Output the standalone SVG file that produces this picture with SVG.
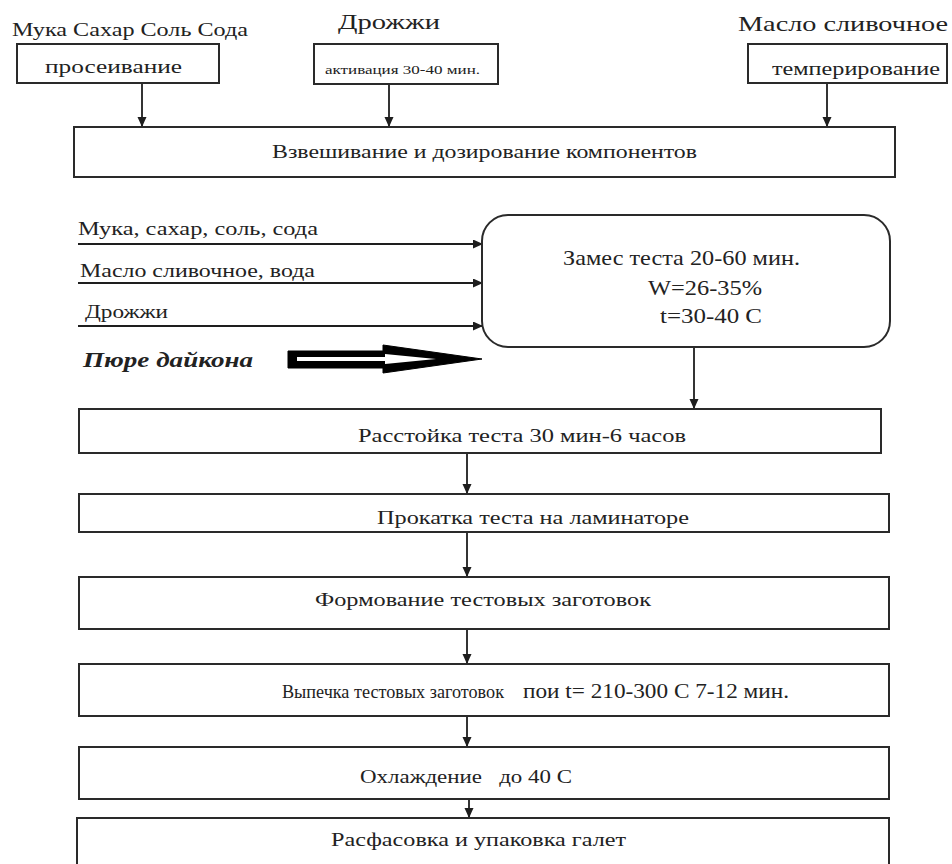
<svg xmlns="http://www.w3.org/2000/svg" width="952" height="864" viewBox="0 0 952 864">
<style>
.box{fill:#fff;stroke:#2a2a2a;stroke-width:2}
.ln{fill:none;stroke:#1e1e1e;stroke-width:1.8}
.t{font-family:"Liberation Serif","DejaVu Serif","Times New Roman",serif;fill:#222}
</style>
<defs>
<marker id="ah" markerUnits="userSpaceOnUse" markerWidth="10" markerHeight="10" refX="10" refY="4.5" orient="auto">
<path d="M0,0 L10,4.5 L0,9 z" fill="#1e1e1e"/>
</marker>
</defs>
<rect width="952" height="864" fill="#fff"/>

<g id="connectors">
<line class="ln" x1="142" y1="83" x2="142" y2="127" marker-end="url(#ah)"/>
<line class="ln" x1="389" y1="84" x2="389" y2="127" marker-end="url(#ah)"/>
<line class="ln" x1="827" y1="83" x2="827" y2="127" marker-end="url(#ah)"/>
<line class="ln" x1="78" y1="244" x2="483" y2="244" marker-end="url(#ah)"/>
<line class="ln" x1="78" y1="283" x2="483" y2="283" marker-end="url(#ah)"/>
<line class="ln" x1="78" y1="326" x2="483" y2="326" marker-end="url(#ah)"/>
<text class="t" x="78" y="235" font-size="18" textLength="240" lengthAdjust="spacingAndGlyphs">Мука, сахар, соль, сода</text>
<text class="t" x="80" y="277" font-size="19" textLength="235" lengthAdjust="spacingAndGlyphs">Масло сливочное, вода</text>
<text class="t" x="85" y="318" font-size="18" textLength="83" lengthAdjust="spacingAndGlyphs">Дрожжи</text>
<text class="t" x="83" y="367" font-size="21" font-weight="bold" font-style="italic" textLength="170" lengthAdjust="spacingAndGlyphs">Пюре дайкона</text>
<polygon points="288,351 383,351 383,345 482,359 383,373 383,368 288,368" fill="#000" stroke="#000" stroke-width="1" stroke-linejoin="round"/>
<polygon points="297,357 385,357 385,354 436,359 385,364 385,361 297,361" fill="#fff"/>
<line class="ln" x1="694" y1="347" x2="694" y2="409" marker-end="url(#ah)"/>
<line class="ln" x1="467" y1="453" x2="467" y2="494" marker-end="url(#ah)"/>
<line class="ln" x1="467" y1="532" x2="467" y2="577" marker-end="url(#ah)"/>
<line class="ln" x1="467" y1="629" x2="467" y2="664" marker-end="url(#ah)"/>
<line class="ln" x1="467" y1="716" x2="467" y2="747" marker-end="url(#ah)"/>
<line class="ln" x1="469" y1="799" x2="469" y2="818" marker-end="url(#ah)"/>
</g>

<g id="n-sift">
<text class="t" x="12" y="36" font-size="18" textLength="236" lengthAdjust="spacingAndGlyphs">Мука Сахар Соль Сода</text>
<rect class="box" x="17" y="44" width="202" height="39"/>
<text class="t" x="45" y="73" font-size="18" textLength="137" lengthAdjust="spacingAndGlyphs">просеивание</text>
</g>

<g id="n-yeast">
<text class="t" x="338" y="29" font-size="22" textLength="102" lengthAdjust="spacingAndGlyphs">Дрожжи</text>
<rect class="box" x="314" y="44" width="184" height="40"/>
<text class="t" x="325" y="74" font-size="12" textLength="155" lengthAdjust="spacingAndGlyphs">активация 30-40 мин.</text>
</g>

<g id="n-butter">
<text class="t" x="738" y="31" font-size="22" textLength="210" lengthAdjust="spacingAndGlyphs">Масло сливочное</text>
<rect class="box" x="748" y="44" width="199" height="39"/>
<text class="t" x="772" y="75" font-size="18" textLength="168" lengthAdjust="spacingAndGlyphs">темперирование</text>
</g>

<g id="n-weigh">
<rect class="box" x="74" y="127" width="821" height="50"/>
<text class="t" x="272" y="158" font-size="18" textLength="425" lengthAdjust="spacingAndGlyphs">Взвешивание и дозирование компонентов</text>
</g>

<g id="n-knead">
<rect class="box" x="482" y="215" width="408" height="132" rx="26" ry="26"/>
<text class="t" x="563" y="265" font-size="22" textLength="237" lengthAdjust="spacingAndGlyphs">Замес теста 20-60 мин.</text>
<text class="t" x="648" y="295" font-size="22" textLength="114" lengthAdjust="spacingAndGlyphs">W=26-35%</text>
<text class="t" x="660" y="323" font-size="22" textLength="102" lengthAdjust="spacingAndGlyphs">t=30-40 С</text>
</g>

<g id="n-proof">
<rect class="box" x="79" y="409" width="802" height="44"/>
<text class="t" x="358" y="442" font-size="19" textLength="328" lengthAdjust="spacingAndGlyphs">Расстойка теста 30 мин-6 часов</text>
</g>

<g id="n-roll">
<rect class="box" x="79" y="494" width="810" height="38"/>
<text class="t" x="377" y="524" font-size="18" textLength="312" lengthAdjust="spacingAndGlyphs">Прокатка теста на ламинаторе</text>
</g>

<g id="n-form">
<rect class="box" x="79" y="577" width="810" height="52"/>
<text class="t" x="315" y="606" font-size="18" textLength="336" lengthAdjust="spacingAndGlyphs">Формование тестовых заготовок</text>
</g>

<g id="n-bake">
<rect class="box" x="79" y="664" width="810" height="52"/>
<text class="t" x="282" y="698" font-size="18" textLength="222" lengthAdjust="spacingAndGlyphs">Выпечка тестовых заготовок</text>
<text class="t" x="523" y="698" font-size="20" textLength="266" lengthAdjust="spacingAndGlyphs">пои t= 210-300 С 7-12 мин.</text>
</g>

<g id="n-cool">
<rect class="box" x="79" y="747" width="810" height="52"/>
<text class="t" x="360" y="783" font-size="18" textLength="212" lengthAdjust="spacingAndGlyphs" xml:space="preserve">Охлаждение   до 40 С</text>
</g>

<g id="n-pack">
<rect class="box" x="77" y="818" width="812" height="60"/>
<text class="t" x="331" y="846" font-size="18" textLength="295" lengthAdjust="spacingAndGlyphs">Расфасовка и упаковка галет</text>
</g>
</svg>
